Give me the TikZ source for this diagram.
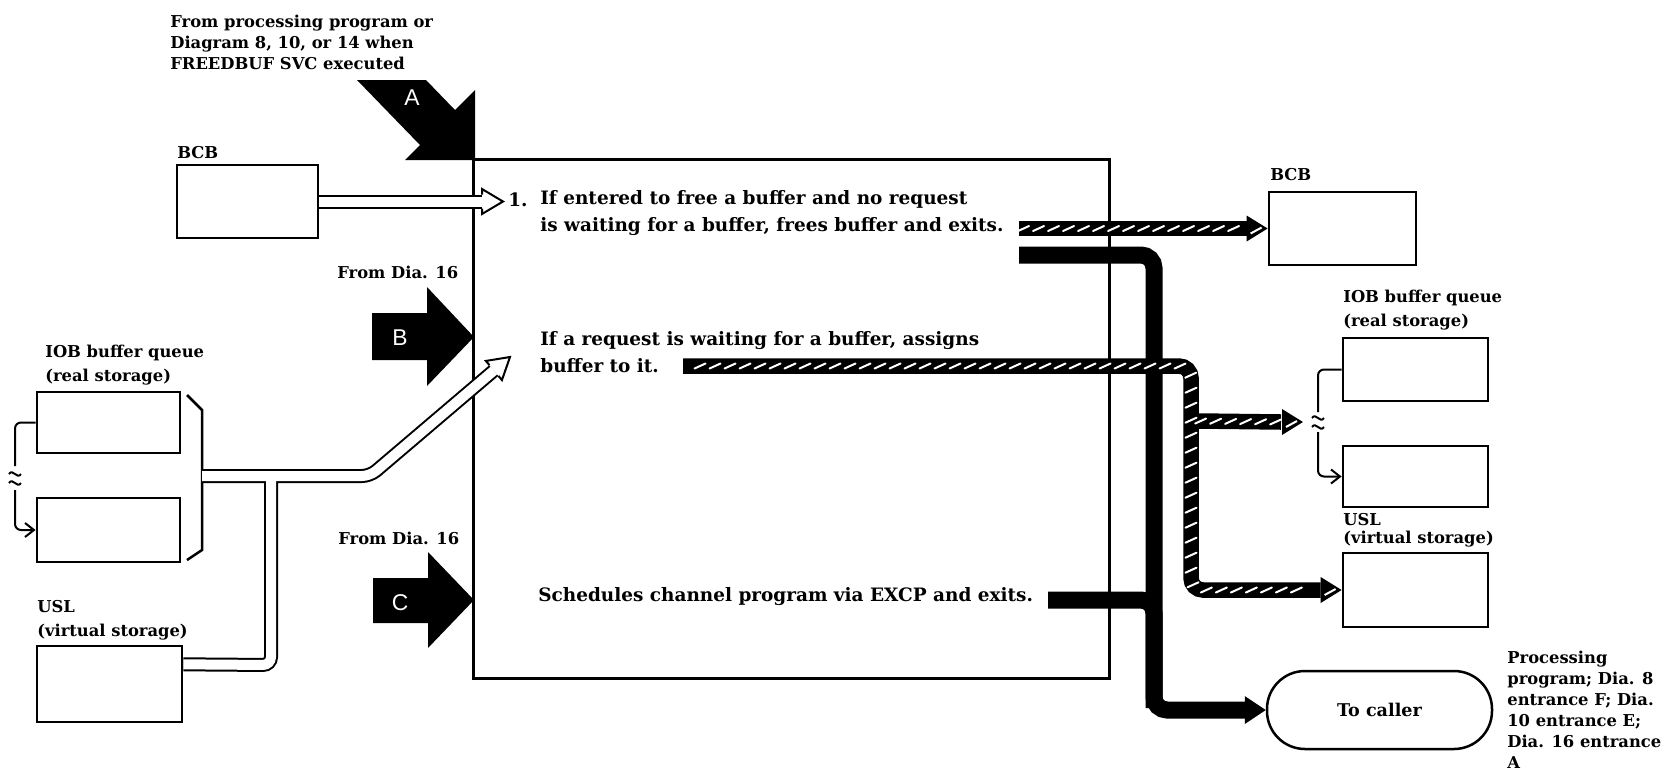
\documentclass[tikz,border=0pt]{standalone}
\usepackage{fontspec}
\setmainfont{DejaVu Serif}
\newfontfamily\ltrfont{Liberation Sans}
\usetikzlibrary{arrows.meta,decorations.markings,calc}
\tikzset{>=latex}
\tikzset{
  box/.style={draw, line width=0.55mm, inner sep=0pt},
  lbl/.style={font=\bfseries\fontsize{9.3}{12}\selectfont, anchor=west, align=left, inner sep=0pt},
  lblwide/.style={lbl, font=\bfseries\fontsize{9.3}{13.6}\selectfont},
  txt/.style={font=\bfseries\fontsize{10.5}{15.4}\selectfont, anchor=west, align=left, inner sep=0pt},
  ltr/.style={text=white, font=\ltrfont\fontsize{13}{13}\selectfont, inner sep=0pt},
  hollow/.style={line width=0.4mm, double=white, double distance=2mm, rounded corners=1.6mm},
  solidband/.style={line width=3.4mm, rounded corners=2.6mm},
  hatchband/.style={line width=3.1mm, rounded corners=2.4mm,
    postaction={decorate, decoration={markings,
      mark=between positions 0.02 and 0.98 step 3mm with {\pgftransformresetnontranslations
        \draw[white, line width=0.4mm, line cap=round] (-1.1mm,-0.5mm) -- (1.1mm,0.5mm);}}}},
  link/.style={line width=0.4mm, rounded corners=1.2mm},
  hhead/.pic={
    \fill[white] (-21,-12.5) -- (0,0) -- (-21,12.5) -- cycle;
    \draw[line width=0.4mm, line join=miter] (-21,-7) -- (-21,-12.5) -- (0,0) -- (-21,12.5) -- (-21,7);},
  bhead/.pic={\fill (-21,-14) -- (0,0) -- (-21,14) -- cycle;},
  thead/.pic={
    \fill (-21,-13) -- (0,0) -- (-21,13) -- cycle;
    \draw[white, line width=0.4mm] (-17,5) -- (-6,-1);},
  brk/.pic={
    \draw[line width=0.4mm] (-6,-4) .. controls (-2,-10) and (2,2) .. (6,-4);
    \draw[line width=0.4mm] (-6,5) .. controls (-2,-1) and (2,11) .. (6,5);}
}
\begin{document}
\begin{tikzpicture}[x=0.2mm, y=-0.2mm]
\useasboundingbox (0,0) rectangle (1667,774);

% the routine
\node[box, line width=0.6mm, minimum width=127mm, minimum height=103.8mm] (rtn) at (791.5,418.5) {};

% input areas
\node[box, minimum width=28.2mm, minimum height=14.6mm] (bcbL) at (247.5,201.5) {};
\node[box, minimum width=28.6mm, minimum height=12.2mm] (iobLa) at (108.5,422.5) {};
\node[box, minimum width=28.6mm, minimum height=12.8mm] (iobLb) at (108.5,530) {};
\node[box, minimum width=29mm, minimum height=15.2mm] (uslL) at (109.5,684) {};
% output areas
\node[box, minimum width=29.4mm, minimum height=14.6mm] (bcbR) at (1342.5,228.5) {};
\node[box, minimum width=29mm, minimum height=12.6mm] (iobRa) at (1415.5,369.5) {};
\node[box, minimum width=29mm, minimum height=12.2mm] (iobRb) at (1415.5,476.5) {};
\node[box, minimum width=29mm, minimum height=14.8mm] (uslR) at (1415.5,590) {};
\node[box, line width=0.5mm, rounded corners=7.6mm, minimum width=45mm, minimum height=15.6mm,
      font=\bfseries\fontsize{10}{11}\selectfont] (caller) at (1379.5,710) {To caller};

% labels
\node[lbl] (fromA) at (170,42) {From processing program or\\Diagram 8, 10, or 14 when\\FREEDBUF SVC executed};
\node[lbl] (bcbLt) at (177,153) {BCB};
\node[lbl] (fromB) at (337,272) {From Dia. 16};
\node[lbl] (fromC) at (338,538) {From Dia. 16};
\node[lblwide] (iobLt) at (45,365) {IOB buffer queue\\(real storage)};
\node[lblwide] (uslLt) at (37,620) {USL\\(virtual storage)};
\node[lbl] (bcbRt) at (1270,175) {BCB};
\node[lblwide] (iobRt) at (1343,310) {IOB buffer queue\\(real storage)};
\node[lbl, font=\bfseries\fontsize{9.3}{10.2}\selectfont] (uslRt) at (1343,530) {USL\\(virtual storage)};
\node[lbl] (callt) at (1507,709.5) {Processing\\program; Dia. 8\\entrance F; Dia.\\10 entrance E;\\Dia. 16 entrance\\A};

% entry points
\fill (357,80) -- (426,80) -- (455,110) -- (475,90) -- (475,160) -- (405,160) -- (420,145) -- cycle;
\node[ltr] (ltrA) at (412,98) {A};
\fill (372,313) -- (427,313) -- (427,287) -- (474,337) -- (427,386) -- (427,360) -- (372,360) -- cycle;
\node[ltr] (ltrB) at (400,338) {B};
\fill (373,578) -- (428,578) -- (428,552) -- (474,600) -- (428,648) -- (428,623) -- (373,623) -- cycle;
\node[ltr] (ltrC) at (400,603) {C};

% queue links
\draw[line width=0.5mm] (187,395) -- (202,410) -- (202,550) -- (187,560);
\coordinate (brkL) at (15,478);
\coordinate (brkR) at (1318,422);
\draw[link] (iobLa.west) -- (15,422.5) -- ([yshift=2.4mm]brkL);
\pic at (brkL) {brk};
\draw[link, -{Straight Barb[length=1.8mm, width=2.8mm]}] ([yshift=-2.4mm]brkL) |- (iobLb.west);
\draw[link] (iobRa.west) -- (1318,369.5) -- ([yshift=2mm]brkR);
\pic at (brkR) {brk};
\draw[link, -{Straight Barb[length=1.8mm, width=2.8mm]}] ([yshift=-2mm]brkR) |- (iobRb.west);

% inputs
\draw[hollow] (bcbL.east) -- (482,201.5);
\pic at (503,201.5) {hhead};
\draw[hollow] (202,476) -- (370,476) -- (493.9,370.5)
  ($(uslL.north east)!0.25!(uslL.south east)$) -- (271,665) -- (271,476);
\pic[rotate=40] at (510,357) {hhead};

% exits
\coordinate (o1) at (1019,255);
\coordinate (o3) at (1048,600);
\draw[solidband] (o1) -- (1154,255) |- ([xshift=-4.2mm]caller.west);
\draw[solidband] (o3) -| (1154,708);
\pic at (caller.west) {bhead};

% outputs
\coordinate (h1) at (1019,228.5);
\coordinate (h2) at (683,366);
\draw[hatchband] (h1) -- ([xshift=-4.2mm]bcbR.west);
\pic at (bcbR.west) {thead};
\draw[hatchband] (h2) -- (1191,366) |- ([xshift=-4.2mm]uslR.west);
\pic at (uslR.west) {thead};
\draw[hatchband] (1199,421) -- ([xshift=-7.4mm]brkR);
\pic at ([xshift=-3mm]brkR) {thead};

% steps
\node[txt] (n1) at (508,200) {1.};
\node[txt] (s1) at (540,213.5) {If entered to free a buffer and no request\\is waiting for a buffer, frees buffer and exits.};
\node[txt] (s2) at (540,352.5) {If a request is waiting for a buffer, assigns\\buffer to it.};
\node[txt] (s3) at (538,597) {Schedules channel program via EXCP and exits.};
\end{tikzpicture}
\end{document}
